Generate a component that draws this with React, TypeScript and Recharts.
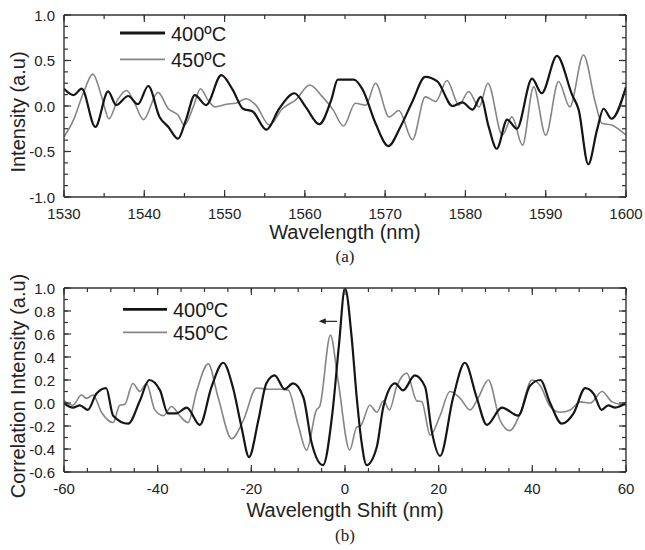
import { LineChart, Line, XAxis, YAxis, ReferenceLine, Legend, Label } from "recharts";

const FONT = '"Liberation Sans", Arial, Helvetica, sans-serif';
const SERIF = '"Liberation Serif", "Times New Roman", serif';
const AXIS = "#333";

// (a) spectra, 400ºC (black) and 450ºC (grey)
const wl400 = [
  1530, 1531.2, 1532.2, 1533.9, 1535.5, 1536.5, 1538, 1539.2, 1540.5, 1541.9, 1543, 1544.2,
  1545.2, 1546.3, 1547.7, 1549.6, 1551, 1552.3, 1553.5, 1555.2, 1556.8, 1558.7, 1560.1, 1561.8,
  1563.3, 1564.1, 1565.3, 1566.1, 1567.2, 1568.8, 1570.4, 1571.9, 1573.4, 1575, 1576.5, 1578.4,
  1579.6, 1580.9, 1581.9, 1582.9, 1583.9, 1585.2, 1586.4, 1588.3, 1589.5, 1591.4, 1593.3, 1594.1,
  1595.3, 1596.4, 1597.2, 1598.2, 1600,
];
const int400 = [
  0.19, 0.12, 0.19, -0.23, 0.16, 0.01, 0.11, 0.02, 0.22, -0.12, -0.23, -0.36,
  -0.15, 0.12, 0.01, 0.34, 0.18, -0.03, -0.06, -0.26, -0.03, 0.14, -0.01, -0.2,
  0.07, 0.29, 0.29, 0.29, 0.18, -0.19, -0.44, -0.23, 0.05, 0.32, 0.27, 0.0,
  0.04, -0.04, 0.1, -0.23, -0.47, -0.15, -0.25, 0.3, 0.14, 0.55, 0.12, -0.04,
  -0.64, -0.26, -0.03, -0.14, 0.21,
];
const wl450 = [
  1530, 1531.2, 1532.4, 1533.6, 1534.7, 1535.6, 1536.7, 1537.8, 1538.8, 1539.9, 1541.7, 1543,
  1544.2, 1545, 1546.1, 1547, 1547.9, 1548.8, 1550.2, 1551.4, 1552.7, 1553.9, 1555.6, 1557.2,
  1558.9, 1560.6, 1562.2, 1563.5, 1564.8, 1566.3, 1567.6, 1568.8, 1570.5, 1571.7, 1573.4, 1575,
  1576.3, 1577.7, 1579.2, 1580.4, 1581.7, 1582.8, 1584.6, 1585.8, 1587.1, 1588.5, 1590, 1591.6,
  1593, 1594.7, 1596.2, 1597, 1598.2, 1600,
];
const int450 = [
  -0.34, -0.15, 0.14, 0.35, 0.1, -0.14, 0.07, 0.17, 0.03, -0.15, 0.15, -0.03,
  -0.1, -0.21, -0.01, 0.19, 0.07, -0.01, 0.02, 0.03, 0.08, 0.01, -0.21, -0.03,
  0.07, 0.23, 0.1, -0.04, -0.22, 0.03, 0.01, 0.25, -0.12, -0.05, -0.37, 0.1,
  0.05, 0.28, 0.01, 0.16, -0.01, 0.25, -0.32, -0.12, -0.43, 0.21, -0.32, 0.27,
  -0.01, 0.56, 0.03, -0.19, -0.21, -0.32,
];

// (b) correlation vs wavelength shift
const shift400 = [
  -60, -58.1, -56.6, -54.9, -53.1, -51, -49.5, -46.3, -43.8, -41.8, -39.5, -37.8,
  -36, -33.8, -31, -28.5, -26, -23.9, -22.1, -20.5, -18.5, -16.8, -15, -12.9,
  -11.1, -8.9, -7.1, -4.7, -2.7, -1.3, 0, 1.4, 2.5, 3.5, 4.6, 6.8,
  8.2, 10.7, 12.4, 14.9, 17.1, 18.5, 20.3, 23.1, 25.6, 28.1, 30.3, 33.5,
  37, 39.5, 41.7, 43.8, 46.3, 48.8, 51.3, 53.1, 54.8, 56.2, 57.7, 60,
];
const corr400 = [
  0.0, -0.04, -0.02, -0.06, 0.08, 0.13, -0.11, -0.18, 0.02, 0.2, 0.11, -0.09,
  -0.09, -0.04, -0.19, 0.14, 0.35, 0.13, -0.21, -0.47, -0.15, 0.17, 0.24, 0.12,
  0.17, 0.05, -0.35, -0.54, -0.09, 0.5, 1.0, 0.58, 0.05, -0.33, -0.54, -0.38,
  -0.03, 0.17, 0.11, 0.24, 0.14, -0.24, -0.46, 0.05, 0.35, 0.05, -0.19, -0.04,
  -0.11, 0.15, 0.2, 0.0, -0.18, -0.09, 0.13, 0.08, -0.06, -0.02, -0.04, 0.0,
];
const shift450 = [
  -60, -58.1, -56.3, -55.2, -53.8, -52, -49.5, -48.1, -47, -45.3, -43.8, -42.4,
  -40.6, -38.8, -37, -35.3, -33.5, -31.7, -29.2, -27.1, -24.2, -21.7, -18.9, -16.4,
  -13.9, -12.1, -10, -8.2, -6.1, -5.4, -3.1, -1.5, 1.0, 2.5, 3.3, 5.3,
  6.8, 8.2, 9.5, 11, 13.2, 15.3, 16.4, 18.2, 20.3, 22.4, 24.6, 26.7,
  28.5, 30.6, 33.1, 35.2, 37.4, 39.9, 41.7, 43.8, 45.9, 48.1, 50.3, 52.4,
  54.9, 57, 60,
];
const corr450 = [
  0.02, -0.02, 0.07, 0.04, 0.07, -0.08, -0.17, -0.02, -0.01, 0.17, 0.1, 0.17,
  -0.06, -0.11, -0.03, -0.11, -0.17, 0.1, 0.34, 0.05, -0.31, -0.15, 0.13, 0.12,
  0.12, 0.11, -0.19, -0.41, -0.06, -0.03, 0.59, 0.2, -0.41, -0.21, -0.2, -0.02,
  -0.08, 0.02, -0.06, 0.14, 0.26, 0.02, 0.01, -0.28, -0.11, 0.1, 0.04, -0.06,
  0.05, 0.2, -0.15, -0.24, -0.09, 0.2, 0.15, -0.03, -0.08, -0.06, 0.01, 0.0,
  0.1, 0.01, -0.02,
];

const seriesNames = ["400ºC", "450ºC"];
const seriesColors = ["#151515", "#858585"];
const seriesWidths = [2.2, 1.6];

// ticks (all) and the labelled ones
const wlTicks = [1530, 1535, 1540, 1545, 1550, 1555, 1560, 1565, 1570, 1575, 1580, 1585, 1590, 1595, 1600];
const wlMajor = [1530, 1540, 1550, 1560, 1570, 1580, 1590, 1600];
const intTicks = [-1, -0.875, -0.75, -0.625, -0.5, -0.375, -0.25, -0.125, 0, 0.125, 0.25, 0.375, 0.5, 0.625, 0.75, 0.875, 1];
const intMajor = [-1, -0.5, 0, 0.5, 1];
const shiftTicks = [-60, -55, -50, -45, -40, -35, -30, -25, -20, -15, -10, -5, 0, 5, 10, 15, 20, 25, 30, 35, 40, 45, 50, 55, 60];
const shiftMajor = [-60, -40, -20, 0, 20, 40, 60];
const corrTicks = [-0.6, -0.5, -0.4, -0.3, -0.2, -0.1, 0, 0.1, 0.2, 0.3, 0.4, 0.5, 0.6, 0.7, 0.8, 0.9, 1];
const corrMajor = [-0.6, -0.4, -0.2, 0, 0.2, 0.4, 0.6, 0.8, 1];

const toPoints = (xs: number[], ys: number[]) => xs.map((x, i) => ({ x, y: ys[i] }));

type Side = "bottom" | "top" | "left" | "right";

const MINOR = 4;
const MAJOR = 7;

// recharts draws every tick line MINOR px long (inward); majors get extended here
const makeTick = (side: Side, majors: number[], fmt?: (v: number) => string) => (props: any) => {
  const { x, y, payload } = props;
  const v = payload.value;
  const major = majors.some((m) => Math.abs(m - v) < 1e-6);
  // x, y arrive at the inner end of the recharts tick line
  let ax = x;
  let ay = y;
  if (side === "bottom") ay = y + MINOR;
  if (side === "top") ay = y - MINOR;
  if (side === "left") ax = x - MINOR;
  if (side === "right") ax = x + MINOR;
  let ex = ax;
  let ey = ay;
  if (side === "bottom") ey = ay - MAJOR;
  if (side === "top") ey = ay + MAJOR;
  if (side === "left") ex = ax + MAJOR;
  if (side === "right") ex = ax - MAJOR;
  return (
    <g>
      {major && <path d={`M${ax},${ay}L${ex},${ey}`} stroke={AXIS} strokeWidth={1.2} fill="none" />}
      {major && fmt && side === "bottom" && (
        <text x={ax} y={ay + 22} textAnchor="middle" fontSize={15} fontFamily={FONT} fill="#222">
          {fmt(v)}
        </text>
      )}
      {major && fmt && side === "left" && (
        <text x={ax - 9} y={ay + 5.5} textAnchor="end" fontSize={15} fontFamily={FONT} fill="#222">
          {fmt(v)}
        </text>
      )}
    </g>
  );
};

const xTitle = (title: string, tag: string, titleDy: number, tagDy: number) => (props: any) => {
  const { x, y, width } = props.viewBox;
  const cx = x + width / 2;
  return (
    <g>
      <text x={cx} y={y + titleDy} textAnchor="middle" fontSize={20} fontFamily={FONT} fill="#222">
        {title}
      </text>
      <text x={cx} y={y + tagDy} textAnchor="middle" fontSize={17} fontFamily={SERIF} fill="#222">
        {tag}
      </text>
    </g>
  );
};

const yTitle = (title: string) => (props: any) => {
  const { x, y, height } = props.viewBox;
  const tx = x + 17;
  const ty = y + height / 2 + 6;
  return (
    <text
      x={tx}
      y={ty}
      transform={`rotate(-90, ${tx}, ${ty})`}
      textAnchor="middle"
      fontSize={20}
      fontFamily={FONT}
      fill="#222"
    >
      {title}
    </text>
  );
};

const legendContent = (lineY: number[], lineX: [number, number], textX: number, baseY: number[]) => () => (
  <svg width={130} height={60} style={{ display: "block", overflow: "visible" }}>
    {seriesNames.map((name, i) => (
      <g key={name}>
        <line
          x1={lineX[0]}
          x2={lineX[1]}
          y1={lineY[i]}
          y2={lineY[i]}
          stroke={seriesColors[i]}
          strokeWidth={i === 0 ? 2.8 : 1.8}
        />
        <text x={textX} y={baseY[i]} fontSize={20} fontFamily={FONT} fill="#1a1a1a">
          {name}
        </text>
      </g>
    ))}
  </svg>
);

const fmt1 = (v: number) => v.toFixed(1);
const fmt0 = (v: number) => String(v);

const ArrowShape = (props: any) => {
  const { x1, y1, x2, y2 } = props;
  const left = Math.min(x1, x2);
  const right = Math.max(x1, x2);
  const yy = (y1 + y2) / 2;
  return (
    <g>
      <line x1={left + 5} x2={right} y1={yy} y2={yy} stroke="#222" strokeWidth={1.2} />
      <polygon points={`${left},${yy} ${left + 7},${yy - 3} ${left + 7},${yy + 3}`} fill="#222" />
    </g>
  );
};

const axisCommon = {
  type: "number" as const,
  interval: 0 as const,
  allowDataOverflow: true,
  tickSize: -MINOR,
  tickMargin: 0,
  tickLine: { stroke: AXIS, strokeWidth: 1.2 },
  stroke: AXIS,
  strokeWidth: 1.4,
};

// an invisible series bound to the mirrored (top/right) axes so recharts draws the frame
const FrameAnchor = (xs: number[], ys: number[]) => (
  <Line
    xAxisId="t"
    yAxisId="r"
    data={toPoints(xs, ys)}
    dataKey="y"
    legendType="none"
    stroke="transparent"
    strokeWidth={0}
    dot={false}
    activeDot={false}
    isAnimationActive={false}
  />
);

function SpectrumChart() {
  return (
    <LineChart width={645} height={270} margin={{ top: 14, right: 18, bottom: 33, left: 8 }}>
      <XAxis
        {...axisCommon}
        xAxisId="b"
        dataKey="x"
        domain={[1530, 1600]}
        ticks={wlTicks}
        height={40}
        tick={makeTick("bottom", wlMajor, fmt0)}
      >
        <Label content={xTitle("Wavelength (nm)", "(a)", 42, 65)} />
      </XAxis>
      <XAxis
        {...axisCommon}
        xAxisId="t"
        dataKey="x"
        orientation="top"
        domain={[1530, 1600]}
        ticks={wlTicks}
        height={1}
        tick={makeTick("top", wlMajor)}
      />
      <YAxis
        {...axisCommon}
        yAxisId="l"
        domain={[-1, 1]}
        ticks={intTicks}
        width={56}
        tick={makeTick("left", intMajor, fmt1)}
      >
        <Label content={yTitle("Intensity (a.u)")} />
      </YAxis>
      <YAxis
        {...axisCommon}
        yAxisId="r"
        orientation="right"
        domain={[-1, 1]}
        ticks={intTicks}
        width={1}
        tick={makeTick("right", intMajor)}
      />
      <Legend
        layout="vertical"
        align="center"
        verticalAlign="middle"
        wrapperStyle={{ left: 118, top: 20, width: 130, height: 60 }}
        content={legendContent([13, 39.3], [2, 47], 53, [21, 46.7])}
      />
      {FrameAnchor(wl400, int400)}
      <Line
        xAxisId="b"
        yAxisId="l"
        data={toPoints(wl450, int450)}
        dataKey="y"
        name={seriesNames[1]}
        type="monotone"
        stroke={seriesColors[1]}
        strokeWidth={seriesWidths[1]}
        dot={false}
        isAnimationActive={false}
      />
      <Line
        xAxisId="b"
        yAxisId="l"
        data={toPoints(wl400, int400)}
        dataKey="y"
        name={seriesNames[0]}
        type="monotone"
        stroke={seriesColors[0]}
        strokeWidth={seriesWidths[0]}
        dot={false}
        isAnimationActive={false}
      />
    </LineChart>
  );
}

function CorrelationChart() {
  return (
    <LineChart width={645} height={280} margin={{ top: 17, right: 18, bottom: 38, left: 8 }}>
      <XAxis
        {...axisCommon}
        xAxisId="b"
        dataKey="x"
        domain={[-60, 60]}
        ticks={shiftTicks}
        height={40}
        tick={makeTick("bottom", shiftMajor, fmt0)}
      >
        <Label content={xTitle("Wavelength Shift (nm)", "(b)", 45, 69)} />
      </XAxis>
      <XAxis
        {...axisCommon}
        xAxisId="t"
        dataKey="x"
        orientation="top"
        domain={[-60, 60]}
        ticks={shiftTicks}
        height={1}
        tick={makeTick("top", shiftMajor)}
      />
      <YAxis
        {...axisCommon}
        yAxisId="l"
        domain={[-0.6, 1]}
        ticks={corrTicks}
        width={56}
        tick={makeTick("left", corrMajor, fmt1)}
      >
        <Label content={yTitle("Correlation Intensity (a.u)")} />
      </YAxis>
      <YAxis
        {...axisCommon}
        yAxisId="r"
        orientation="right"
        domain={[-0.6, 1]}
        ticks={corrTicks}
        width={1}
        tick={makeTick("right", corrMajor)}
      />
      <Legend
        layout="vertical"
        align="center"
        verticalAlign="middle"
        wrapperStyle={{ left: 118, top: 25, width: 130, height: 60 }}
        content={legendContent([14.3, 37.3], [5, 49], 55, [21.7, 45])}
      />
      <ReferenceLine
        xAxisId="b"
        yAxisId="l"
        segment={[
          { x: -5.6, y: 0.71 },
          { x: -1.7, y: 0.71 },
        ]}
        shape={ArrowShape}
      />
      {FrameAnchor(shift400, corr400)}
      <Line
        xAxisId="b"
        yAxisId="l"
        data={toPoints(shift450, corr450)}
        dataKey="y"
        name={seriesNames[1]}
        type="monotone"
        stroke={seriesColors[1]}
        strokeWidth={seriesWidths[1]}
        dot={false}
        isAnimationActive={false}
      />
      <Line
        xAxisId="b"
        yAxisId="l"
        data={toPoints(shift400, corr400)}
        dataKey="y"
        name={seriesNames[0]}
        type="monotone"
        stroke={seriesColors[0]}
        strokeWidth={seriesWidths[0]}
        dot={false}
        isAnimationActive={false}
      />
    </LineChart>
  );
}

export default function App() {
  return (
    <div style={{ position: "absolute", left: 0, top: 0, width: 645, height: 550, background: "#fff" }}>
      <div style={{ position: "absolute", left: 0, top: 0 }}>
        <SpectrumChart />
      </div>
      <div style={{ position: "absolute", left: 0, top: 270 }}>
        <CorrelationChart />
      </div>
    </div>
  );
}
